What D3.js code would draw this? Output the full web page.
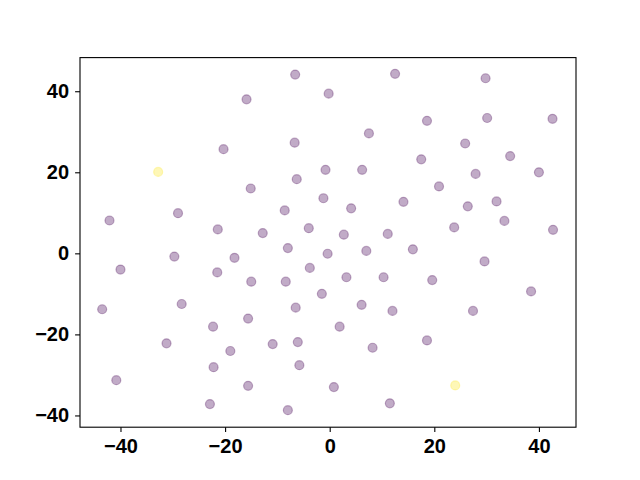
<!DOCTYPE html>
<html>
<head>
<meta charset="utf-8">
<script src="https://cdn.jsdelivr.net/npm/d3@7"></script>
<style>
  body { margin: 0; background: #fff; }
  .tick text { font-family: "Liberation Sans", Arial, sans-serif; font-weight: bold; font-size: 20px; fill: #000; }
</style>
</head>
<body>
<svg class="scatter"></svg>
<script>
// point coordinates
var xValues = [-6.6, -0.2, -15.9, -6.7, -20.3, -32.8, -0.8, -6.3, -15.1, -1.2,
  -42.1, -29.0, -8.6, -21.4, -12.8, -4.0, -8.0, 12.5, 29.8, 18.6,
  30.1, 42.6, 7.5, 25.9, 34.5, 17.5, 6.2, 27.9, 40.0, 20.9,
  4.1, 14.1, 26.4, 31.9, 33.4, 23.8, 2.7, 11.1, 42.7, 7.0,
  15.9, -0.4, -29.7, -18.2, -40.0, -21.5, -3.8, -15.0, -8.4, -1.5,
  -43.5, -28.3, -6.5, -15.6, -22.3, -31.2, -19.0, -10.9, -6.1, -22.2,
  -5.8, -40.8, -15.6, 0.8, -22.9, -8.0, 29.6, 3.2, 10.3, 19.6,
  38.5, 6.1, 12.0, 27.4, 1.9, 18.6, 8.2, 24.0, 11.5];
var yValues = [44.1, 39.4, 38.0, 27.3, 25.7, 20.1, 20.6, 18.3, 16.0, 13.6,
  8.1, 9.9, 10.6, 5.9, 5.0, 6.2, 1.3, 44.3, 43.2, 32.7,
  33.4, 33.2, 29.6, 27.1, 24.0, 23.2, 20.6, 19.6, 20.0, 16.5,
  11.1, 12.7, 11.6, 12.8, 8.0, 6.4, 4.6, 4.8, 5.8, 0.6,
  1.0, -0.1, -0.8, -1.1, -4.0, -4.7, -3.6, -7.0, -7.0, -10.0,
  -13.8, -12.5, -13.4, -16.1, -18.1, -22.2, -24.1, -22.4, -21.9, -28.1,
  -27.6, -31.3, -32.7, -33.0, -37.2, -38.7, -2.0, -5.9, -5.9, -6.6,
  -9.4, -12.7, -14.2, -14.2, -18.1, -21.5, -23.3, -32.6, -37.0];
// class of each point (0 = purple, 1 = yellow)
var classes = [0, 0, 0, 0, 0, 1, 0, 0, 0, 0,
  0, 0, 0, 0, 0, 0, 0, 0, 0, 0,
  0, 0, 0, 0, 0, 0, 0, 0, 0, 0,
  0, 0, 0, 0, 0, 0, 0, 0, 0, 0,
  0, 0, 0, 0, 0, 0, 0, 0, 0, 0,
  0, 0, 0, 0, 0, 0, 0, 0, 0, 0,
  0, 0, 0, 0, 0, 0, 0, 0, 0, 0,
  0, 0, 0, 0, 0, 0, 0, 1, 0];
var xTicks = [-40, -20, 0, 20, 40];
var yTicks = [-40, -20, 0, 20, 40];

var svgWidth = 640,
    svgHeight = 480,
    plotLeft = 80, plotRight = 576, plotTop = 57.6, plotBottom = 427.2;

var svg = d3.select('.scatter')
    .attr('width', svgWidth)
    .attr('height', svgHeight)

var x = d3.scaleLinear().domain([-47.74, 47.09]).range([plotLeft, plotRight])
var y = d3.scaleLinear().domain([-42.9, 48.3]).range([plotBottom, plotTop])
var color = function(c) { return d3.interpolateViridis(c) }

var fmt = function(d) { return d < 0 ? '\u2212' + Math.abs(d) : String(d) }

svg.append('g')
  .selectAll('circle')
  .data(xValues.map(function(d, i) { return {x: d, y: yValues[i], c: classes[i]} }))
  .enter()
  .append('circle')
  .attr('cx', function(d) { return x(d.x) })
  .attr('cy', function(d) { return y(d.y) })
  .attr('r', 4.5)
  .attr('fill', function(d) { return color(d.c) })
  .attr('fill-opacity', 0.33)
  .attr('stroke', function(d) { return color(d.c) })
  .attr('stroke-opacity', 0.3)
  .attr('stroke-width', 1.2)

svg.append('rect')
  .attr('x', plotLeft).attr('y', plotTop)
  .attr('width', plotRight - plotLeft).attr('height', plotBottom - plotTop)
  .attr('fill', 'none').attr('stroke', '#000').attr('stroke-width', 1.1)

svg.append('g')
  .attr('transform', 'translate(0,' + plotBottom + ')')
  .call(d3.axisBottom(x).tickValues(xTicks).tickFormat(fmt).tickSize(4.9).tickPadding(7).tickSizeOuter(0))
svg.append('g')
  .attr('transform', 'translate(' + plotLeft + ',0)')
  .call(d3.axisLeft(y).tickValues(yTicks).tickFormat(fmt).tickSize(4.9).tickPadding(6).tickSizeOuter(0))

svg.selectAll('.domain').remove()
svg.selectAll('.tick line').attr('stroke', '#000').attr('stroke-width', 1.1)
</script>
</body>
</html>
